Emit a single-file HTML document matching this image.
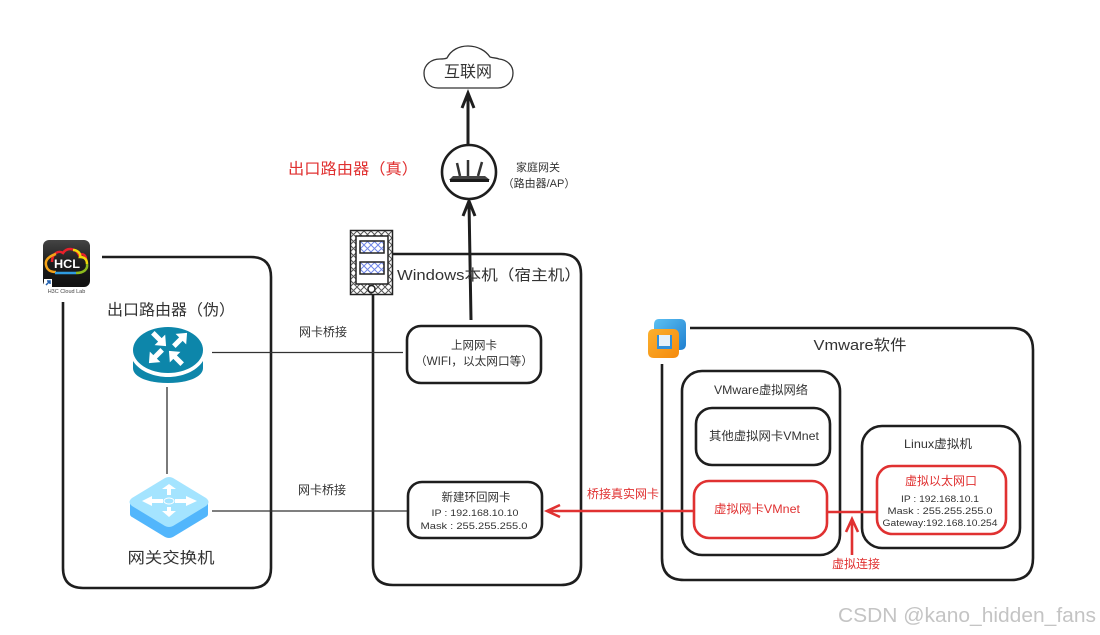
<!DOCTYPE html>
<html><head><meta charset="utf-8"><style>
html,body{margin:0;padding:0;background:#fff}
svg{display:block}
text{font-family:"Liberation Sans","Noto Sans CJK SC",sans-serif;fill:#333;text-anchor:middle}
.box{fill:none;stroke:#1e1e1e;stroke-width:2.6}
.red{fill:none;stroke:#e03131;stroke-width:2.6}
.ln{stroke:#333;stroke-width:1.3;fill:none}
</style></head><body>
<svg width="1100" height="635" viewBox="0 0 1100 635" xmlns="http://www.w3.org/2000/svg">
<defs>
<pattern id="h" width="7" height="7" patternUnits="userSpaceOnUse"><rect width="7" height="7" fill="#fff"/><path d="M0 0L7 7M7 0L0 7" stroke="#555" stroke-width="1"/></pattern>
<pattern id="b" width="7" height="7" patternUnits="userSpaceOnUse"><rect width="7" height="7" fill="#fff"/><path d="M0 0L7 7M7 0L0 7" stroke="#6f86e8" stroke-width="1"/></pattern>
<linearGradient id="hcl" x1="0" y1="0" x2="0" y2="1"><stop offset="0" stop-color="#444"/><stop offset=".5" stop-color="#1c1c1c"/><stop offset="1" stop-color="#111"/></linearGradient>
<linearGradient id="vb" x1="0" y1="0" x2="1" y2="1"><stop offset="0" stop-color="#5cc0f2"/><stop offset="1" stop-color="#1f7fd0"/></linearGradient>
<linearGradient id="vo" x1="0" y1="0" x2="1" y2="1"><stop offset="0" stop-color="#fbb02e"/><stop offset="1" stop-color="#f58a0c"/></linearGradient>
<path id="ar" d="M-7 -2H1V-6L8 0L1 6V2H-7Z" fill="#fff"/>
</defs>

<!-- containers -->
<path class="box" d="M102 257H251Q271 257 271 277V568Q271 588 251 588H83Q63 588 63 568V302"/>
<path class="box" d="M393 254H561Q581 254 581 274V565Q581 585 561 585H393Q373 585 373 565V295"/>
<path class="box" d="M690 328H1011Q1033 328 1033 350V558Q1033 580 1011 580H684Q662 580 662 558V364"/>
<rect class="box" x="682" y="371" width="158" height="184" rx="20"/>
<rect class="box" x="696" y="408" width="134" height="57" rx="16"/>
<rect class="box" x="862" y="426" width="158" height="122" rx="20"/>
<rect class="box" x="407" y="326" width="134" height="57" rx="14"/>
<rect class="box" x="408" y="482" width="134" height="56" rx="14"/>

<!-- thin connectors -->
<path class="ln" d="M212 352.500H403"/>
<path class="ln" d="M212 511H407"/>
<path class="ln" d="M167 387V474"/>

<!-- red parts -->
<rect class="red" x="694" y="481" width="133" height="57" rx="15"/>
<rect class="red" x="877" y="466" width="129" height="68" rx="15"/>
<path class="red" d="M827 512H877"/>
<path class="red" d="M693 511H548M560 505L547 511L560 517"/>
<path class="red" d="M852 555V520M846 532L852 519L858 532"/>

<!-- black arrows -->
<path d="M468 146V94M462 108L468 93L474 108" fill="none" stroke="#1e1e1e" stroke-width="3"/>
<path d="M471 320L469 202M463 216L469 201L475 216" fill="none" stroke="#1e1e1e" stroke-width="3"/>

<!-- cloud -->
<path d="M438 88C429 88 424 81 424 73C424 65 431 59 440 59C443 59 445 59 447 58C451 50 459 46 468 46C478 46 486 51 490 57C493 58 497 58 499 59C507 60 513 65 513 73C513 81 507 88 498 88Z" fill="#fff" stroke="#333" stroke-width="1.300"/>
<text x="468" y="77" font-size="16">互联网</text>

<!-- home router -->
<circle cx="469" cy="172" r="27" fill="#fff" stroke="#1e1e1e" stroke-width="2.600"/>
<path d="M457 163L460 176M468 160V176M482 162L478 176" stroke="#333" stroke-width="2.500" fill="none"/>
<path d="M453 176H485L490 180H449Z" fill="#444"/>
<rect x="450" y="179" width="39" height="3" fill="#1b1b1b"/>
<text x="538" y="171" font-size="11">家庭网关</text>
<text x="539" y="187" font-size="11">（路由器/AP）</text>
<text x="353" y="174" font-size="15.500" style="fill:#e03131" textLength="130" lengthAdjust="spacingAndGlyphs">出口路由器（真）</text>

<!-- tower -->
<rect x="350.500" y="230.500" width="42" height="64" fill="url(#h)" stroke="#222" stroke-width="1.500"/>
<rect x="356" y="236" width="32" height="48" fill="#fff" stroke="#222" stroke-width="1.500"/>
<rect x="360" y="241" width="24" height="12" fill="url(#b)" stroke="#222" stroke-width="1.500"/>
<rect x="360" y="262" width="24" height="12" fill="url(#b)" stroke="#222" stroke-width="1.500"/>
<circle cx="371.500" cy="289" r="3.500" fill="#fff" stroke="#222" stroke-width="1.500"/>
<text x="489" y="280" font-size="15" textLength="184" lengthAdjust="spacingAndGlyphs">Windows本机（宿主机）</text>

<!-- HCL icon -->
<rect x="43" y="240" width="47" height="47" rx="6" fill="url(#hcl)"/>
<path d="M52 262C52 253 59 250 63 253C67 247 76 248 79 255C83 253 86 255 86 260" fill="none" stroke="#e8202a" stroke-width="2.500"/>
<path d="M73 250C78 250 81 254 80 257C85 257 87 260 87 264" fill="none" stroke="#f2d80a" stroke-width="2.500"/>
<path d="M56 254C49 256 45 260 46 265C47 270 50 272 56 272" fill="none" stroke="#f5a318" stroke-width="2.500"/>
<path d="M55 273H76" stroke="#2f9be0" stroke-width="2.500"/>
<path d="M76 273C84 273 88 269 87 264" fill="none" stroke="#8dbb1e" stroke-width="2.500"/>
<text x="67" y="268" font-size="12" font-weight="bold" style="fill:#fff" textLength="26" lengthAdjust="spacingAndGlyphs">HCL</text>
<rect x="44" y="279" width="8" height="8" fill="#fff"/>
<path d="M46 285L50 281M47 281H50V284" stroke="#1f5fae" stroke-width="1.500" fill="none"/>
<text x="66.500" y="293" font-size="5.500" style="fill:#444">H3C Cloud Lab</text>

<!-- router -->
<text x="171" y="315" font-size="15.500" textLength="128" lengthAdjust="spacingAndGlyphs">出口路由器（伪）</text>
<path d="M133 361C140 372 155 377 168 377C181 377 196 372 203 361V368C203 377 188 383 168 383C148 383 133 377 133 368Z" fill="#0d86aa"/>
<ellipse cx="168" cy="350" rx="35" ry="23" fill="#0d86aa"/>
<use href="#ar" transform="translate(159 339) rotate(45) scale(1.250)"/>
<use href="#ar" transform="translate(180 340) rotate(-45) scale(1.250)"/>
<use href="#ar" transform="translate(156 356) rotate(135) scale(1.250)"/>
<use href="#ar" transform="translate(176 358) rotate(225) scale(1.250)"/>

<!-- switch -->
<path d="M130 503V514Q130 516 132 517L165 537Q169 539 173 537L206 517Q208 516 208 514V503Z" fill="#52b6fc"/>
<path d="M165 478Q169 476 173 478L206 498Q211 502 206 506L173 526Q169 528 165 526L132 506Q127 502 132 498Z" fill="#a4e4ff"/>
<path d="M142 501L152 496V499H163V503H152V506Z M197 501L186 496V499H175V503H186V506Z M169 484L176 489H171V495H167V489H162Z M169 517L176 511H171V507H167V511H162Z" fill="#fff"/>
<ellipse cx="169" cy="501" rx="5" ry="3" fill="none" stroke="#fff" stroke-width="1"/>
<text x="171" y="563" font-size="15.500" textLength="87" lengthAdjust="spacingAndGlyphs">网关交换机</text>

<!-- link labels -->
<text x="323" y="336" font-size="12">网卡桥接</text>
<text x="322" y="494" font-size="12">网卡桥接</text>

<!-- nics -->
<text x="474" y="349" font-size="11.500">上网网卡</text>
<text x="474" y="365" font-size="11.500" textLength="118" lengthAdjust="spacingAndGlyphs">（WIFI，以太网口等）</text>
<text x="476" y="501" font-size="11.500">新建环回网卡</text>
<text x="475" y="516" font-size="9.500" textLength="87" lengthAdjust="spacingAndGlyphs">IP : 192.168.10.10</text>
<text x="474" y="529" font-size="9.500" textLength="107" lengthAdjust="spacingAndGlyphs">Mask : 255.255.255.0</text>

<!-- vmware icon -->
<path fill-rule="evenodd" d="M659 319H680Q686 319 686 325V344Q686 350 680 350H660Q654 350 654 344V325Q654 319 659 319Z" fill="url(#vb)"/>
<path fill-rule="evenodd" d="M654 329H673Q679 329 679 335V352Q679 358 673 358H654Q648 358 648 352V335Q648 329 654 329ZM657 335V349H672V335Z" fill="url(#vo)"/>
<rect x="657" y="335" width="15" height="14" fill="#2f8fd8"/>
<rect x="659" y="335" width="11" height="11" fill="#e4f1fa"/>

<text x="860" y="350" font-size="15" textLength="93" lengthAdjust="spacingAndGlyphs">Vmware软件</text>
<text x="761" y="394" font-size="12" textLength="94" lengthAdjust="spacingAndGlyphs">VMware虚拟网络</text>
<text x="764" y="440" font-size="12" textLength="110" lengthAdjust="spacingAndGlyphs">其他虚拟网卡VMnet</text>
<text x="757" y="513" font-size="12" style="fill:#e03131" textLength="86" lengthAdjust="spacingAndGlyphs">虚拟网卡VMnet</text>
<text x="938" y="448" font-size="12" textLength="68" lengthAdjust="spacingAndGlyphs">Linux虚拟机</text>
<text x="941" y="485" font-size="12" style="fill:#e03131">虚拟以太网口</text>
<text x="940" y="502" font-size="9.500" textLength="78" lengthAdjust="spacingAndGlyphs">IP : 192.168.10.1</text>
<text x="940" y="514" font-size="9.500" textLength="105" lengthAdjust="spacingAndGlyphs">Mask : 255.255.255.0</text>
<text x="940" y="526" font-size="9.500" textLength="115" lengthAdjust="spacingAndGlyphs">Gateway:192.168.10.254</text>
<text x="623" y="498" font-size="12" style="fill:#e03131">桥接真实网卡</text>
<text x="856" y="568" font-size="12" style="fill:#e03131">虚拟连接</text>

<text x="967" y="622" font-size="20" style="fill:#c4c4c4" textLength="258" lengthAdjust="spacingAndGlyphs">CSDN @kano_hidden_fans</text>
</svg>
</body></html>
